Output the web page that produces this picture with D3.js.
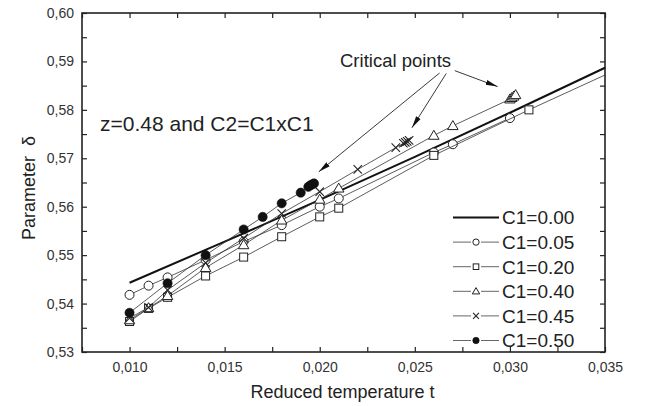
<!DOCTYPE html>
<html>
<head>
<meta charset="utf-8">
<script src="https://cdn.jsdelivr.net/npm/d3@7"></script>
<style>
	body { margin: 0; background: #fff; }
	svg { font-family: "Liberation Sans", Arial, sans-serif; }
</style>
</head>
<body>
<div id="chart"></div>
<script>

// reduced temperature t and parameter delta
let t00 = [0.010, 0.015, 0.020, 0.025, 0.030, 0.035];
let d00 = [0.5443, 0.5528, 0.5614, 0.5703, 0.5794, 0.5887];

let t05 = [0.010, 0.011, 0.012, 0.014, 0.016, 0.018, 0.020, 0.021, 0.026, 0.027, 0.030];
let d05 = [0.5418, 0.5437, 0.5454, 0.5490, 0.5528, 0.5562, 0.5600, 0.5617, 0.5712, 0.5729, 0.5783];

let t20 = [0.010, 0.011, 0.012, 0.014, 0.016, 0.018, 0.020, 0.021, 0.026, 0.031];
let d20 = [0.5363, 0.5390, 0.5413, 0.5457, 0.5496, 0.5538, 0.5579, 0.5597, 0.5706, 0.5800];
// line without symbol after the last square
let t20tail = [0.031, 0.035];
let d20tail = [0.5800, 0.5872];

let t40 = [0.010, 0.011, 0.012, 0.014, 0.016, 0.018, 0.020, 0.021, 0.026, 0.027, 0.0300, 0.0301, 0.0302, 0.0303];
let d40 = [0.5366, 0.5391, 0.5416, 0.5474, 0.5521, 0.5572, 0.5615, 0.5638, 0.5747, 0.5767, 0.5822, 0.5825, 0.5828, 0.5831];

let t45 = [0.010, 0.011, 0.012, 0.014, 0.016, 0.018, 0.020, 0.022, 0.024, 0.0244, 0.0245, 0.0246, 0.0247];
let d45 = [0.5370, 0.5392, 0.5428, 0.5484, 0.5535, 0.5586, 0.5631, 0.5677, 0.5722, 0.5731, 0.5733, 0.5735, 0.5737];

let t50 = [0.010, 0.012, 0.014, 0.016, 0.017, 0.018, 0.019, 0.0194, 0.0195, 0.0196, 0.0197];
let d50 = [0.5381, 0.5442, 0.5500, 0.5553, 0.5579, 0.5607, 0.5629, 0.5641, 0.5644, 0.5646, 0.5648];

let xTicks = [0.010, 0.015, 0.020, 0.025, 0.030, 0.035];
let xMinor = [0.0075, 0.0125, 0.0175, 0.0225, 0.0275, 0.0325];
let yTicks = [0.53, 0.54, 0.55, 0.56, 0.57, 0.58, 0.59, 0.60];
let yMinor = [0.535, 0.545, 0.555, 0.565, 0.575, 0.585, 0.595];

let legendLabels = ["C1=0.00", "C1=0.05", "C1=0.20", "C1=0.40", "C1=0.45", "C1=0.50"];

// arrows from the "Critical points" label: [t0, d0, t1, d1]
let arrowFrom = [[0.02630, 0.5876], [0.02665, 0.5875], [0.02710, 0.5881]];
let arrowTo = [[0.01995, 0.5672], [0.02485, 0.5763], [0.02935, 0.5848]];

let zip = (ts, ds) => ts.map((t, i) => ({t: t, d: ds[i]}));

let series = [
	{label: legendLabels[0], pts: zip(t00, d00), sym: "none", thick: true},
	{label: legendLabels[1], pts: zip(t05, d05), sym: "circle"},
	{label: legendLabels[2], pts: zip(t20, d20), sym: "square", tail: zip(t20tail, d20tail)},
	{label: legendLabels[3], pts: zip(t40, d40), sym: "triangle"},
	{label: legendLabels[4], pts: zip(t45, d45), sym: "cross"},
	{label: legendLabels[5], pts: zip(t50, d50), sym: "filled"}
];

let margin = {top: 13, right: 42, bottom: 54, left: 82};
let W = 647, H = 406;
let width = W - margin.left - margin.right;
let height = H - margin.top - margin.bottom;

let svg = d3.select("#chart").append("svg")
	.attr("width", W)
	.attr("height", H);

svg.append("rect").attr("width", W).attr("height", H).attr("fill", "#fff");

let g = svg.append("g")
	.attr("transform", "translate(" + margin.left + "," + margin.top + ")");

let x = d3.scaleLinear().domain([0.0075, 0.035]).range([0, width]);
let y = d3.scaleLinear().domain([0.53, 0.60]).range([height, 0]);

let fmtX = d => d3.format(".3f")(d).replace(".", ",");
let fmtY = d => d3.format(".2f")(d).replace(".", ",");

// axes, ticks pointing inside
g.append("g")
	.attr("class", "x-axis")
	.attr("transform", "translate(0," + height + ")")
	.call(d3.axisBottom(x).tickValues(xTicks).tickFormat(fmtX).tickSizeInner(-5).tickSizeOuter(0).tickPadding(10));
g.append("g")
	.attr("transform", "translate(0," + height + ")")
	.call(d3.axisBottom(x).tickValues(xMinor).tickFormat("").tickSizeInner(-5).tickSizeOuter(0));
g.append("g")
	.call(d3.axisTop(x).tickValues(xTicks.concat(xMinor)).tickFormat("").tickSizeInner(-5).tickSizeOuter(0));

g.append("g")
	.attr("class", "y-axis")
	.call(d3.axisLeft(y).tickValues(yTicks).tickFormat(fmtY).tickSizeInner(-5).tickSizeOuter(0).tickPadding(8));
g.append("g")
	.call(d3.axisLeft(y).tickValues(yMinor).tickFormat("").tickSizeInner(-5).tickSizeOuter(0));
g.append("g")
	.attr("transform", "translate(" + width + ",0)")
	.call(d3.axisRight(y).tickValues(yTicks.concat(yMinor)).tickFormat("").tickSizeInner(-5).tickSizeOuter(0));

g.selectAll(".domain").remove();
g.selectAll(".tick line").attr("stroke", "#222").attr("stroke-width", 1.2);
g.selectAll(".tick text")
	.attr("fill", "#333")
	.style("font-size", "14px");

g.append("rect")
	.attr("width", width)
	.attr("height", height)
	.attr("fill", "none")
	.attr("stroke", "#222")
	.attr("stroke-width", 1.6);

// axis titles
svg.append("text")
	.attr("x", margin.left + width / 2 - 1)
	.attr("y", 398)
	.attr("text-anchor", "middle")
	.attr("fill", "#222")
	.style("font-size", "18px")
	.text("Reduced temperature t");

svg.append("text")
	.attr("transform", "translate(35,188) rotate(-90)")
	.attr("text-anchor", "middle")
	.attr("fill", "#222")
	.style("font-size", "18px")
	.style("white-space", "pre")
	.text("Parameter  δ");

// symbols
function drawSymbol(sel, sym, s) {
	if (sym === "circle") {
		sel.append("circle").attr("r", 4.5 * s).attr("fill", "#fff").attr("stroke", "#222").attr("stroke-width", 1);
	} else if (sym === "filled") {
		sel.append("circle").attr("r", 4.6 * s).attr("fill", "#111").attr("stroke", "#111").attr("stroke-width", 0.6);
	} else if (sym === "square") {
		sel.append("rect").attr("x", -4 * s).attr("y", -4 * s).attr("width", 8 * s).attr("height", 8 * s)
			.attr("fill", "#fff").attr("stroke", "#222").attr("stroke-width", 1);
	} else if (sym === "triangle") {
		let r = 5 * s;
		sel.append("path")
			.attr("d", "M0," + (-r * 1.05) + "L" + (r * 1.05) + "," + (r * 0.75) + "L" + (-r * 1.05) + "," + (r * 0.75) + "Z")
			.attr("fill", "#fff").attr("stroke", "#222").attr("stroke-width", 1);
	} else if (sym === "cross") {
		let r = 4.2 * s;
		sel.append("path")
			.attr("d", "M" + (-r) + "," + (-r) + "L" + r + "," + r + "M" + (-r) + "," + r + "L" + r + "," + (-r))
			.attr("fill", "none").attr("stroke", "#222").attr("stroke-width", 1.1);
	}
}

let line = d3.line().x(d => x(d.t)).y(d => y(d.d));

series.forEach(function (s) {
	let sg = g.append("g").attr("class", "series");
	sg.append("path")
		.datum(s.pts)
		.attr("d", line)
		.attr("fill", "none")
		.attr("stroke", s.thick ? "#111" : "#333")
		.attr("stroke-width", s.thick ? 2 : 0.8);
	if (s.tail) {
		sg.append("path")
			.datum(s.tail)
			.attr("d", line)
			.attr("fill", "none")
			.attr("stroke", "#333")
			.attr("stroke-width", 0.8);
	}
	if (s.sym !== "none") {
		sg.selectAll(".pt")
			.data(s.pts)
			.enter()
			.append("g")
			.attr("class", "pt")
			.attr("transform", d => "translate(" + x(d.t) + "," + y(d.d) + ")")
			.each(function () { drawSymbol(d3.select(this), s.sym, 1); });
	}
});

// annotations
g.append("text")
	.attr("x", 18)
	.attr("y", 118)
	.attr("fill", "#222")
	.style("font-size", "21px")
	.text("z=0.48 and C2=C1xC1");

g.append("text")
	.attr("x", 258)
	.attr("y", 54)
	.attr("fill", "#222")
	.style("font-size", "18.5px")
	.text("Critical points");

svg.append("defs").append("marker")
	.attr("id", "head")
	.attr("viewBox", "0 -5 12 10")
	.attr("refX", 12)
	.attr("refY", 0)
	.attr("markerUnits", "userSpaceOnUse")
	.attr("markerWidth", 12)
	.attr("markerHeight", 10)
	.attr("orient", "auto")
	.append("path")
	.attr("d", "M0,-2.6L12,0L0,2.6Z")
	.attr("fill", "#111");

g.selectAll(".arrow")
	.data(arrowFrom)
	.enter()
	.append("line")
	.attr("class", "arrow")
	.attr("x1", d => x(d[0]))
	.attr("y1", d => y(d[1]))
	.attr("x2", (d, i) => x(arrowTo[i][0]))
	.attr("y2", (d, i) => y(arrowTo[i][1]))
	.attr("stroke", "#222")
	.attr("stroke-width", 0.9)
	.attr("marker-end", "url(#head)");

// legend
let legend = g.append("g")
	.attr("transform", "translate(" + (453 - margin.left) + "," + (217.5 - margin.top) + ")");

series.forEach(function (s, i) {
	let row = legend.append("g").attr("transform", "translate(0," + (i * 24.6) + ")");
	row.append("line")
		.attr("x1", 0).attr("x2", 46)
		.attr("stroke", s.thick ? "#111" : "#666")
		.attr("stroke-width", s.thick ? 2 : 1);
	if (s.sym !== "none") {
		let m = row.append("g").attr("transform", "translate(23,0)");
		m.append("rect").attr("x", -5).attr("y", -5).attr("width", 10).attr("height", 10).attr("fill", "#fff");
		drawSymbol(m, s.sym, 0.7);
	}
	row.append("text")
		.attr("x", 49)
		.attr("y", 0)
		.attr("dy", "0.36em")
		.attr("fill", "#222")
		.style("font-size", "19px")
		.text(s.label);
});

</script>
</body>
</html>
